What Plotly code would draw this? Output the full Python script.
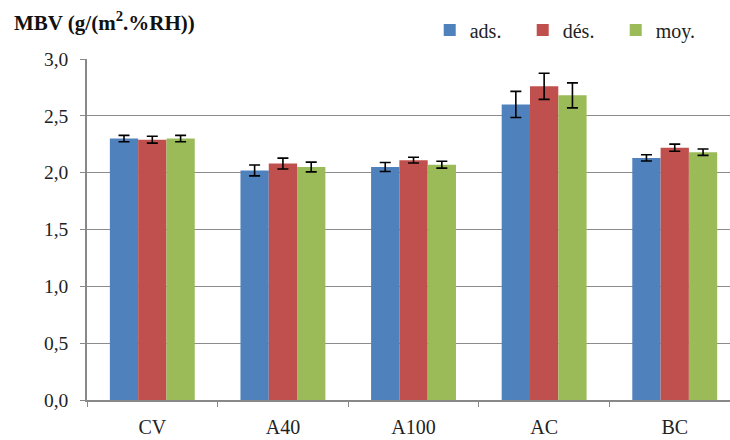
import plotly.graph_objects as go

categories = ["CV", "A40", "A100", "AC", "BC"]
ads = [2.30, 2.02, 2.05, 2.60, 2.13]
ads_err = [0.028, 0.048, 0.040, 0.115, 0.028]
des = [2.29, 2.08, 2.11, 2.76, 2.22]
des_err = [0.030, 0.048, 0.025, 0.115, 0.031]
moy = [2.30, 2.05, 2.07, 2.68, 2.18]
moy_err = [0.028, 0.043, 0.030, 0.110, 0.028]
y_ticks = [0.0, 0.5, 1.0, 1.5, 2.0, 2.5, 3.0]
y_tick_text = ["0,0", "0,5", "1,0", "1,5", "2,0", "2,5", "3,0"]

series = [
    ("ads.", ads, ads_err, "#4F81BD"),
    ("dés.", des, des_err, "#C0504D"),
    ("moy.", moy, moy_err, "#9BBB59"),
]

FONT = "Liberation Serif, Times New Roman, serif"

fig = go.Figure()
for name, vals, errs, color in series:
    fig.add_trace(go.Bar(
        name=name, x=categories, y=vals, marker_color=color,
        marker_line_width=0,
        error_y=dict(type="data", array=errs, visible=True,
                     color="black", thickness=1.6, width=5.5),
    ))

fig.update_layout(
    width=730, height=440,
    margin=dict(l=87, r=0, t=59, b=40, autoexpand=False),
    paper_bgcolor="white", plot_bgcolor="white",
    barmode="group", bargap=0.35, bargroupgap=0.0,
    font=dict(family=FONT, size=18, color="#222222"),
    showlegend=True,
    legend=dict(orientation="h", x=0.533, y=1.085, xanchor="left",
                yanchor="middle", font=dict(size=20, family=FONT),
                entrywidth=48, entrywidthmode="pixels",
                tracegroupgap=0, bgcolor="rgba(0,0,0,0)"),
    xaxis=dict(range=[-0.5, 4.423],
               showline=True, linecolor="#888888", linewidth=1.5,
               ticks="outside", tickson="boundaries", ticklen=5,
               tickcolor="#888888", ticklabelstandoff=8,
               tickfont=dict(size=20, family=FONT)),
    yaxis=dict(range=[0, 3.0], tickvals=y_ticks, ticktext=y_tick_text,
               showline=True, linecolor="#888888", linewidth=1.5,
               ticks="outside", ticklen=5, tickcolor="#888888",
               ticklabelstandoff=8,
               showgrid=True, gridcolor="#8c8c8c", gridwidth=1,
               zeroline=False, tickfont=dict(size=19.5, family=FONT)),
    annotations=[dict(
        text="<b>MBV (g/(m<sup>2</sup>.%RH))</b>", xref="paper", yref="paper",
        x=-0.1166, y=1.111, xanchor="left", yanchor="middle",
        showarrow=False, font=dict(size=21, family=FONT, color="#111111"),
    )],
)

fig.write_html("out.html")
